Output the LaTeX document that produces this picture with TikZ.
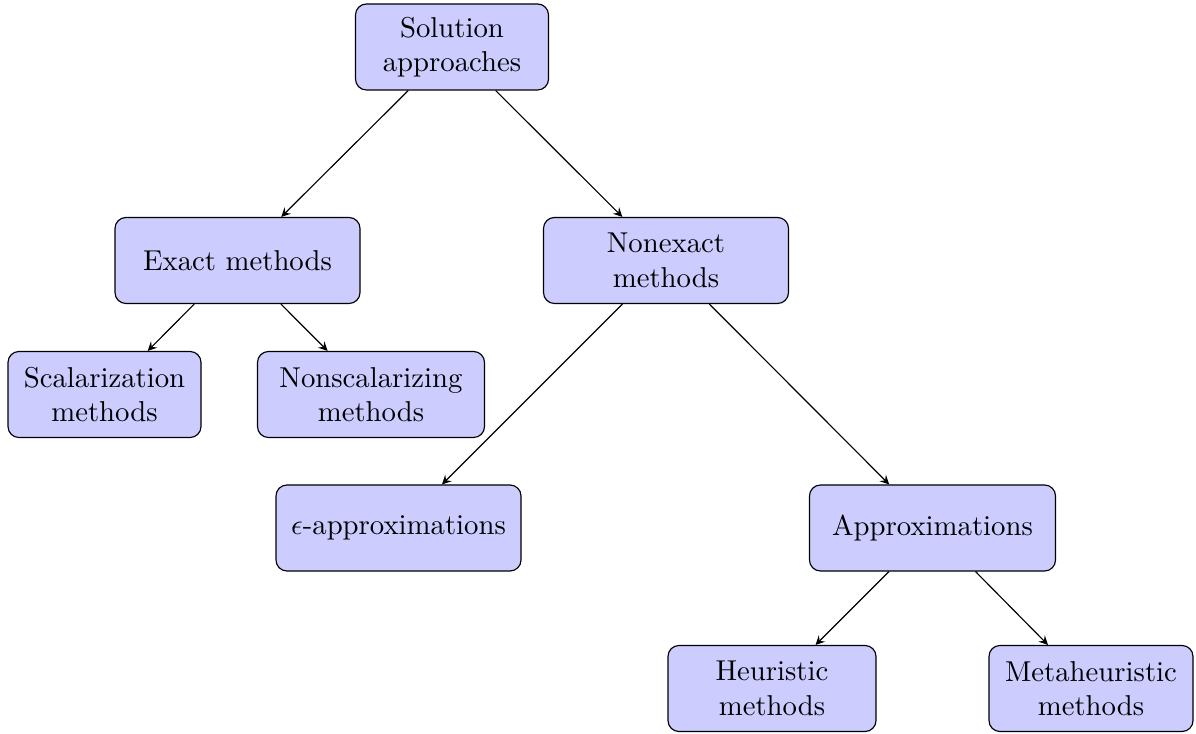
\documentclass[tikz,border=0pt]{standalone}
\usetikzlibrary{arrows.meta}
\begin{document}
\begin{tikzpicture}[x=0.348pt,y=-0.348pt,
  box/.style={draw, fill=blue!20, rounded corners=3.8pt, align=center,
    minimum height=86*0.348pt, inner sep=0pt},
  edge/.style={-stealth}]
\useasboundingbox (0,0) rectangle (1196,734);
\node[box, minimum width=193*0.348pt] (sol) at (452,47) {Solution\\approaches};
\node[box, minimum width=245*0.348pt] (exact) at (237.5,260.5) {Exact methods};
\node[box, minimum width=245*0.348pt] (nonexact) at (666,260.5) {Nonexact\\methods};
\node[box, minimum width=193*0.348pt] (scal) at (104.5,394.5) {Scalarization\\methods};
\node[box, minimum width=227*0.348pt] (nonscal) at (371,394.5) {Nonscalarizing\\methods};
\node[box, minimum width=245*0.348pt] (eps) at (398.5,528) {$\epsilon$-approximations};
\node[box, minimum width=246*0.348pt] (approx) at (932.5,528) {Approximations};
\node[box, minimum width=208*0.348pt] (heur) at (772,688.5) {Heuristic\\methods};
\node[box, minimum width=204*0.348pt] (meta) at (1091,688.5) {Metaheuristic\\methods};
\draw[edge] (sol) -- (exact);
\draw[edge] (sol) -- (nonexact);
\draw[edge] (exact) -- (scal);
\draw[edge] (exact) -- (nonscal);
\draw[edge] (nonexact) -- (eps);
\draw[edge] (nonexact) -- (approx);
\draw[edge] (approx) -- (heur);
\draw[edge] (approx) -- (meta);
\end{tikzpicture}
\end{document}
